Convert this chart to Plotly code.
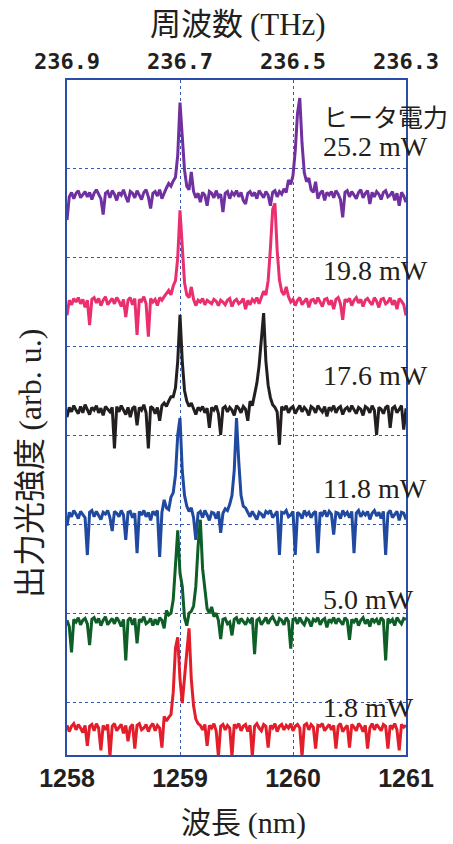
import numpy as np
import plotly.graph_objects as go

# ---------------- data ----------------
wl_start = 1258.0
wl_step = 0.02
n_pts = 151
wavelength = np.round(wl_start + wl_step * np.arange(n_pts), 3)

wl_ticks = [1258, 1259, 1260, 1261]
freq_ticks = [236.9, 236.7, 236.5, 236.3]
freq_ticktext = ["236.9", "236.7", "236.5", "236.3"]

powers = ["25.2 mW", "19.8 mW", "17.6 mW", "11.8 mW", "5.0 mW", "1.8 mW"]
offsets = [6.707, 5.505, 4.291, 3.112, 1.909, 0.718]
label_y = [7.25, 5.864, 4.685, 3.415, 2.168, 0.954]
colors = ["#7030A0", "#EA2E6F", "#231F20", "#2049A0", "#0E5E27", "#E31E2A"]

# relative intensity (1/100 of a grid division)
s_252 = [-28, -2, 3, -4, 2, 5, -3, 1, 4, -2,
         3, -5, 2, 6, 0, -4, -22, 2, 4, -3,
         5, 1, -6, 3, 0, 6, -2, -8, 4, 2,
         -3, 5, 0, -5, 3, 6, -2, -15, 2, 4,
         -1, 6, -4, 3, 8, 13, 10, 16, 20, 45,
         104, 66, 28, 10, 6, 26, 4, -3, 2, -8,
         3, 0, -12, 4, 2, -3, 5, -2, 1, -19,
         2, 4, -4, 3, 0, 5, -2, 3, -6, -10,
         2, 4, -1, 3, -4, 5, 1, -3, 4, 0,
         -12, 3, 5, -2, 4, 1, 7, 3, 17, 12,
         22, 50, 92, 109, 58, 25, 15, 19, 6, 3,
         15, -4, 2, 5, -6, 3, 0, 4, -3, 5,
         1, -5, -25, 3, 5, -2, 4, 0, -4, 3,
         6, -3, 2, 5, -10, 3, -2, 4, 1, -5,
         3, 5, -2, 0, 4, -6, 2, -12, 3, -1,
         -8]
s_198 = [-15, 2, -3, 4, 0, 5, -2, 3, -6, 2,
         -26, 3, 5, -1, 4, -4, 2, 6, -3, 0,
         4, -2, 5, 1, -5, 3, -17, 2, 5, -3,
         4, -37, 3, 1, 6, -2, -39, 4, 0, 3,
         -4, 5, 2, 6, 10, 13, 8, 18, 24, 50,
         103, 55, 22, 8, 5, 17, 3, -4, 2, 0,
         4, -3, 2, 0, -2, 3, 1, -4, 2, 0,
         -3, 2, 4, -5, 1, 3, -2, 0, 4, -8,
         2, -3, 3, 0, 5, -2, 6, 12, 8, 24,
         60, 104, 111, 58, 25, 12, 8, 17, 6, 0,
         3, -4, 2, 5, -3, 1, 4, -6, 2, 3,
         -2, 5, 0, -5, 3, 4, -3, 2, -8, 3,
         5, -2, -20, 3, 1, 4, -4, 2, 5, -1,
         3, -5, 2, 4, 0, -3, 5, 1, -6, 3,
         4, -2, 0, 5, -3, 2, -8, 4, 1, -3,
         -15]
s_176 = [-8, 3, -2, 5, 0, -4, 4, -3, 6, 1,
         -5, 3, 0, 5, -3, 2, -6, 4, 1, -2,
         3, -43, 4, -2, 5, 0, -5, 3, -8, 2,
         4, -17, 3, 0, 6, -3, -43, 4, 2, -4,
         3, -12, 5, 8, 4, 10, 15, 15, 25, 55,
         107, 55, 22, 10, 4, 8, 2, -5, 3, 0,
         4, -3, 2, -20, 3, 0, 5, -4, -28, 2,
         4, -2, 3, 0, -6, 5, 2, -3, 4, 1,
         -12, 10, 5, 17, 30, 50, 85, 109, 55, 28,
         14, 6, 3, -2, -39, 4, 0, 5, -3, 2,
         4, -4, 1, 5, -2, 3, 0, -6, 4, 2,
         -3, 5, 1, -2, 4, -7, 3, 0, 5, -3,
         2, 4, -5, 1, 3, -2, 5, 0, -4, 3,
         1, -6, 4, 2, -3, 5, 0, -28, 3, 1,
         -4, 3, 5, -20, 2, 4, -3, 1, 5, -22,
         2]
s_118 = [-12, 3, -2, 5, 1, -4, 4, 0, -3, -45,
         3, 5, -2, 4, 0, -5, 3, 1, 5, -3,
         -18, 4, 2, -2, 5, 0, -28, 3, 4, -3,
         2, -43, 4, 0, 5, -2, 3, -6, 4, 1,
         5, -47, 3, 17, 8, 6, 20, 25, 45, 90,
         109, 50, 22, 10, 4, 8, -3, -28, 2, 4,
         -3, 5, 0, -6, 3, 2, -4, 4, -20, 2,
         7, 5, 12, 22, 50, 109, 60, 22, 10, 8,
         3, -2, 4, 0, -5, 3, 1, -3, 4, 2,
         5, -3, 0, 4, -45, 3, 2, 5, -2, 0,
         4, -45, 3, 1, -4, 5, 0, 3, -3, 2,
         4, -43, 3, 0, 5, -2, 4, 1, -22, 3,
         2, -4, 5, 0, 3, -3, 4, -43, 2, 5,
         -2, 3, 0, 4, -5, 2, 5, -1, 3, -4,
         4, -45, 2, 5, -3, 0, 4, -6, 3, 2,
         -5]
s_50 = [2, -5, -34, 3, 0, 5, -3, 2, 4, -2,
        -26, 3, 5, -1, 4, -4, 2, 6, -3, 0,
        4, -2, 5, 1, -5, 3, -43, 2, 5, -3,
        4, -24, 3, 1, 6, -2, 0, 4, -4, 3,
        -3, 5, 2, -7, 13, 8, 10, 25, 60, 103,
        55, 40, 5, -4, 10, 12, 18, 40, 85, 115,
        60, 36, 15, 10, 17, 6, 10, 2, -19, 3,
        4, -2, 0, -15, 3, 5, -2, 4, 1, -3,
        3, 0, 5, -36, 2, 4, -3, 1, 5, -2,
        3, 6, 0, -4, 4, 2, -3, 5, 1, -30,
        3, 4, -2, 5, 0, -3, 4, 2, -5, 3,
        1, 5, -3, 2, 4, -6, 3, 0, 5, -2,
        4, 1, -3, 5, 2, -20, 3, 0, 4, -4,
        2, 5, -2, 3, -5, 4, 0, 3, -3, 5,
        2, -43, 4, 0, 3, -4, 5, 1, -2, 4,
        3]
s_18 = [3, -4, 2, 5, -2, 4, 0, -5, 3, -20,
        2, 4, -3, 5, 0, -25, 3, -2, 4, -32,
        2, 5, -3, 0, 4, -6, 3, -15, 1, 4,
        -23, 3, 5, -2, 0, 4, -4, 2, 5, -3,
        3, 0, -22, 13, 8, 12, 15, 40, 90, 102,
        55, 28, 60, 85, 112, 55, 25, 10, 5, 3,
        -2, 4, -20, 3, 0, 5, -3, -32, 2, 4,
        -2, 3, 0, -32, 4, 1, 5, -3, 2, 4,
        -4, 3, -32, 2, 5, 0, -3, 4, 2, -22,
        3, 0, 5, -4, 2, 4, -2, 3, 0, 5,
        -3, 2, 4, 0, -32, 3, 5, -2, 4, 1,
        -23, 3, 2, 5, -3, 0, 4, -2, 3, -23,
        2, 5, -4, 0, 3, -22, 4, 1, -3, 5,
        2, -4, 3, -23, 0, 5, -2, 4, 1, -3,
        4, 2, -23, 3, 0, 5, -2, -25, 4, 1,
        3]
spectra = [s_252, s_198, s_176, s_118, s_50, s_18]

# ---------------- figure ----------------
W, H = 453, 844
L, R, T, B = 67, 47, 80, 89
blue_line = "#2A4DA8"
grid_col = "#3558B5"
txt = "#231F20"
cjk = "Noto Sans CJK JP"
serif = "Liberation Serif"
sans = "Liberation Sans, Arial, sans-serif"

fig = go.Figure()
for vals, off, col in zip(spectra, offsets, colors):
    fig.add_trace(go.Scatter(
        x=wavelength, y=off + np.array(vals) / 100.0,
        mode="lines", line=dict(color=col, width=3),
        showlegend=False, hoverinfo="skip"))

# dummy trace to activate top frequency axis
fig.add_trace(go.Scatter(x=[freq_ticks[0], freq_ticks[-1]], y=[None, None],
                         xaxis="x2", mode="lines", showlegend=False, hoverinfo="skip"))

fig.update_layout(
    width=W, height=H,
    margin=dict(l=L, r=R, t=T, b=B),
    paper_bgcolor="white", plot_bgcolor="white",
    xaxis=dict(range=[1258, 1261], tickvals=wl_ticks, ticktext=[str(t) for t in wl_ticks],
               ticks="", showgrid=True, gridcolor=grid_col, griddash="dot", gridwidth=1,
               showline=True, linecolor=blue_line, linewidth=1.5, mirror=True,
               zeroline=False,
               tickfont=dict(family=sans, size=25, color=txt, weight="bold")),
    xaxis2=dict(range=[236.9, 236.3], overlaying="x", side="top",
                tickvals=freq_ticks, ticktext=freq_ticktext, ticks="",
                showgrid=False, showline=False, zeroline=False, ticklabelstandoff=6,
                tickfont=dict(family="DejaVu Sans Mono", size=22, color=txt, weight="bold")),
    yaxis=dict(range=[0.415, 8.0], tickvals=[1, 2, 3, 4, 5, 6, 7, 8],
               showticklabels=False, ticks="",
               showgrid=True, gridcolor=grid_col, griddash="dot", gridwidth=1,
               showline=True, linecolor=blue_line, linewidth=1.5, mirror=True,
               zeroline=False),
)

ann = []
ann.append(dict(x=1260.248, y=7.595, xref="x", yref="y", text="ヒータ電力",
                showarrow=False, xanchor="left", yanchor="middle",
                font=dict(family=cjk, size=25, color=txt)))
for lab, ly in zip(powers, label_y):
    ann.append(dict(x=1260.248, y=ly, xref="x", yref="y", text=lab,
                    showarrow=False, xanchor="left", yanchor="middle",
                    font=dict(family=serif, size=28, color=txt)))

def px_to_paper_x(px):
    return (px - L) / (W - L - R)

def px_to_paper_y(py):
    return (H - B - py) / (H - T - B)

ann.append(dict(x=px_to_paper_x(238), y=px_to_paper_y(22), xref="paper", yref="paper",
                text='周波数 <span style="font-family:Liberation Serif">(THz)</span>',
                showarrow=False, xanchor="center", yanchor="middle",
                font=dict(family=cjk, size=31, color=txt)))
ann.append(dict(x=px_to_paper_x(243), y=px_to_paper_y(820), xref="paper", yref="paper",
                text='波長 <span style="font-family:Liberation Serif">(nm)</span>',
                showarrow=False, xanchor="center", yanchor="middle",
                font=dict(family=cjk, size=30, color=txt)))
ann.append(dict(x=px_to_paper_x(27), y=px_to_paper_y(464), xref="paper", yref="paper",
                text='出力光強度 <span style="font-family:Liberation Serif">(arb. u.)</span>',
                showarrow=False, xanchor="center", yanchor="middle", textangle=-90,
                font=dict(family=cjk, size=32, color=txt)))
fig.update_layout(annotations=ann)

fig.write_html("out.html", config={"displayModeBar": False},
               post_script="document.body.style.margin='0px';")
